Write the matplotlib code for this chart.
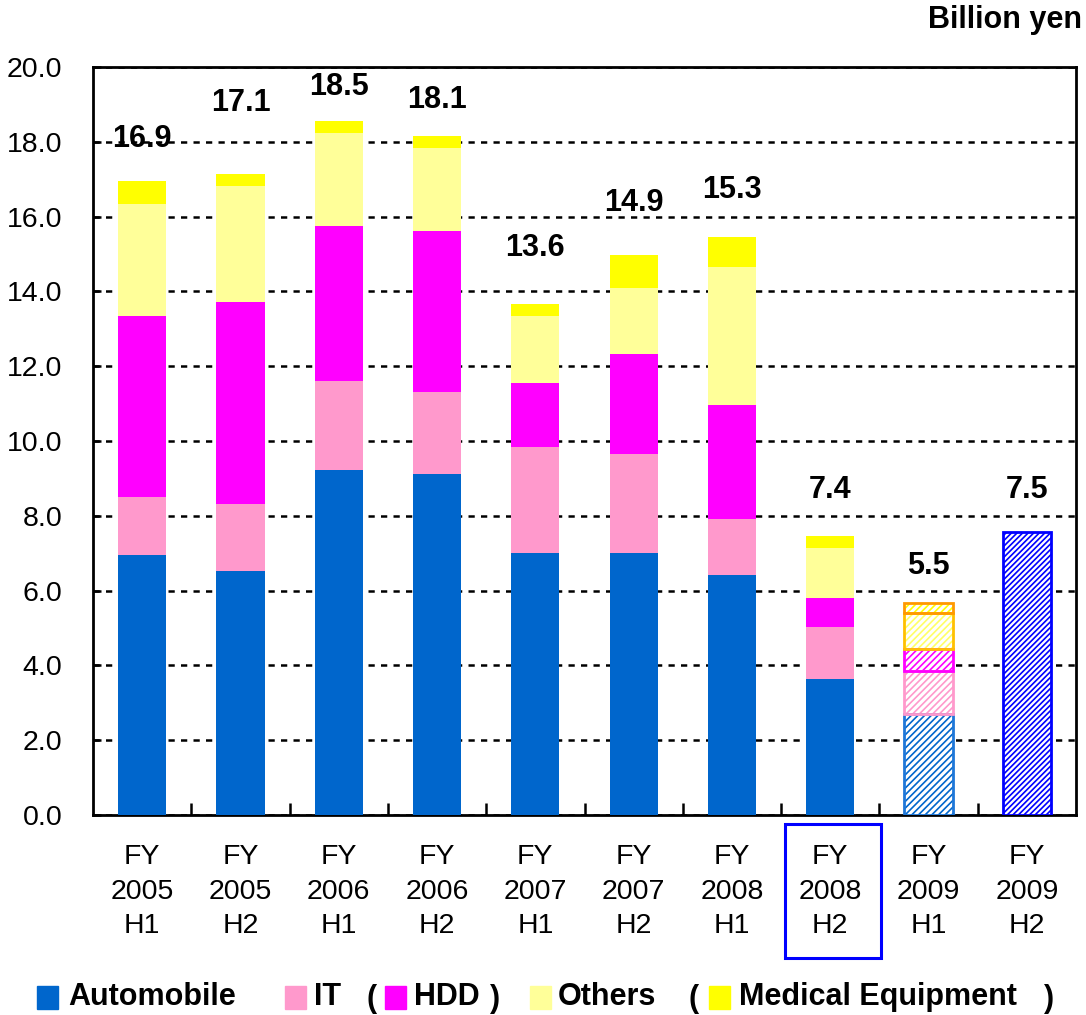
import matplotlib
matplotlib.use('Agg')
import matplotlib.pyplot as plt
from matplotlib.patches import Rectangle
import numpy as np

plt.rcParams['font.family'] = ['Liberation Sans', 'DejaVu Sans']
plt.rcParams['hatch.linewidth'] = 1.2

periods = ['FY\n2005\nH1', 'FY\n2005\nH2', 'FY\n2006\nH1', 'FY\n2006\nH2', 'FY\n2007\nH1',
           'FY\n2007\nH2', 'FY\n2008\nH1', 'FY\n2008\nH2', 'FY\n2009\nH1', 'FY\n2009\nH2']
# FY2005 H1 .. FY2009 H1 (last one is a forecast, hatched)
automobile = [6.95, 6.52, 9.22, 9.12, 7.00, 7.00, 6.42, 3.64, 2.70]
it = [1.55, 1.80, 2.38, 2.19, 2.84, 2.65, 1.49, 1.39, 1.15]
hdd = [4.84, 5.40, 4.15, 4.30, 1.71, 2.68, 3.05, 0.77, 0.59]
others = [3.00, 3.10, 2.49, 2.22, 1.79, 1.76, 3.69, 1.34, 0.96]
medical = [0.61, 0.32, 0.32, 0.33, 0.32, 0.88, 0.80, 0.32, 0.27]
total_h2_2009 = 7.57
total_labels = ['16.9', '17.1', '18.5', '18.1', '13.6', '14.9', '15.3', '7.4', '5.5', '7.5']
label_offsets = [1.12, 1.9, 0.91, 0.96, 1.5, 1.39, 1.26, 1.23, 1.0, 1.12]

series = [automobile, it, hdd, others, medical]
names = ['Automobile', 'IT', 'HDD', 'Others', 'Medical Equipment']
colors = ['#0066CC', '#FF99CC', '#FF00FF', '#FFFF99', '#FFFF00']
fc_edges = ['#1F77D8', '#FF99CC', '#FF00FF', '#FFC000', '#FF9900']

fig = plt.figure(figsize=(10.86, 10.15), dpi=100)
ax = fig.add_axes([93 / 1086, 1 - 815 / 1015, 983 / 1086, 748 / 1015])

x = np.arange(len(periods))
w = 0.49
n_actual = 8

# actual results (solid)
bottom = np.zeros(n_actual)
for vals, c in zip(series, colors):
    v = np.array(vals[:n_actual])
    ax.bar(x[:n_actual], v, w, bottom=bottom, color=c, edgecolor='none', zorder=3)
    bottom += v

# FY2009 H1 forecast (hatched, per segment)
b = 0.0
for vals, c, ec in zip(series, colors, fc_edges):
    v = vals[n_actual]
    ax.bar(x[n_actual], v, w, bottom=b, color='white', edgecolor=c if c != '#FFFF99' else '#FFFF66',
           hatch='/////', linewidth=0, zorder=3)
    ax.bar(x[n_actual], v, w, bottom=b, color='none', edgecolor=ec, linewidth=2, zorder=4)
    b += v

# FY2009 H2 forecast (total only)
ax.bar(x[9], total_h2_2009, w, color='white', edgecolor='#0000FF', hatch='//////', linewidth=0, zorder=3)
ax.bar(x[9], total_h2_2009, w, color='none', edgecolor='#0000FF', linewidth=2, zorder=4)

totals = [sum(s[i] for s in series) for i in range(len(automobile))] + [total_h2_2009]
for xi, t, lab, off in zip(x, totals, total_labels, label_offsets):
    ax.text(xi, t + off, lab, ha='center', va='center', fontsize=22, fontweight='bold', zorder=5)

ax.set_xlim(-0.5, 9.5)
ax.set_ylim(0, 20)
ax.set_yticks(np.arange(0, 20.1, 2))
ax.set_yticklabels(['%.1f' % v for v in np.arange(0, 20.1, 2)], fontsize=20.5)
ax.yaxis.grid(True, color='black', linestyle=(0, (2.5, 2.5)), linewidth=1.8, zorder=1)
ax.set_axisbelow(True)

ax.set_xticks(x)
ax.set_xticklabels(periods, fontsize=20.5, linespacing=1.42)
ax.set_xticks(np.arange(0.5, 9.5, 1), minor=True)
ax.tick_params(axis='x', which='major', length=0, pad=21)
ax.tick_params(axis='x', which='minor', direction='in', length=9, width=1.8)
ax.tick_params(axis='y', direction='in', length=6, width=1.8, pad=22)
for sp in ax.spines.values():
    sp.set_linewidth(2)

fig.text(1082 / 1086, 1 - 20 / 1015, 'Billion yen', ha='right', va='center',
         fontsize=22, fontweight='bold')

# highlight box around FY2008 H2 label
fig.patches.append(Rectangle((785 / 1086, 1 - 958 / 1015), 96 / 1086, 134 / 1015,
                             transform=fig.transFigure, fill=False, edgecolor='#0000FF', linewidth=2.2))

# legend row
ly = 1 - 997 / 1015
sq_h = 23 / 1015
sq_w = 21 / 1086
items = [(37, colors[0], 68, names[0]), (285, colors[1], 314, names[1]),
         (385, colors[2], 414, names[2]), (530, colors[3], 558, names[3]),
         (709, colors[4], 739, names[4])]
for sx, c, tx, name in items:
    fig.patches.append(Rectangle((sx / 1086, ly - sq_h / 2), sq_w, sq_h,
                                 transform=fig.transFigure, color=c))
    fig.text(tx / 1086, ly, name, ha='left', va='center', fontsize=22, fontweight='bold')
for px, s in [(366, '('), (490, ')'), (688, '('), (1044, ')')]:
    fig.text(px / 1086, ly - 0.002, s, ha='left', va='center', fontsize=22, fontweight='bold')

fig.savefig('out.png', dpi=100)
